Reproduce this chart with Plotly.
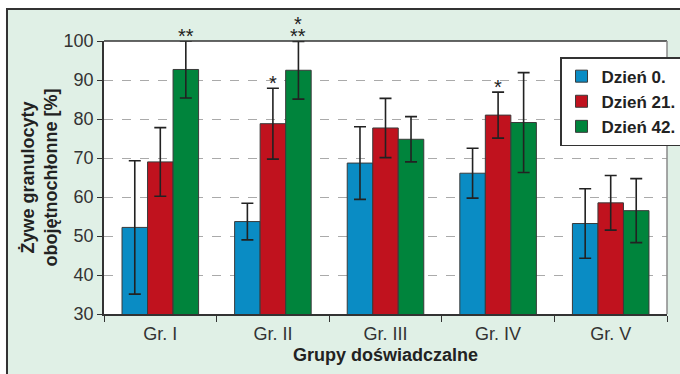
import plotly.graph_objects as go

groups = ["Gr. I", "Gr. II", "Gr. III", "Gr. IV", "Gr. V"]
series_names = ["Dzień 0.", "Dzień 21.", "Dzień 42."]
day0 = [52.2, 53.7, 68.7, 66.1, 53.2]
day0_err = [17.1, 4.7, 9.3, 6.4, 8.9]
day21 = [69.0, 78.8, 77.7, 81.0, 58.5]
day21_err = [8.8, 9.1, 7.6, 5.9, 7.0]
day42 = [92.7, 92.5, 74.8, 79.1, 56.5]
day42_err = [7.3, 7.4, 5.8, 12.8, 8.2]
colors = ["#0a8cc4", "#c0121e", "#00843c"]

# significance marks: (group index, series index, lines of stars, bottom line first)
stars = [(0, 2, ["**"]), (1, 1, ["*"]), (1, 2, ["**", "*"]), (3, 1, ["*"])]

FONT = "Liberation Sans, Arial, sans-serif"

fig = go.Figure()
vals = [day0, day21, day42]
errs = [day0_err, day21_err, day42_err]
for name, v, e, c in zip(series_names, vals, errs, colors):
    fig.add_trace(go.Bar(
        x=groups, y=v, name="<b>" + name + "</b>",
        marker=dict(color=c, line=dict(color="#3a3a3a", width=1)),
        error_y=dict(type="data", array=e, visible=True, color="#222222",
                     thickness=1.6, width=6),
    ))

bar_px = 25.3
for gi, si, lines in stars:
    top = vals[si][gi] + errs[si][gi]
    txt = "<br>".join("<span style='font-size:20px'>%s</span>" % s
                      for s in reversed(lines))
    fig.add_annotation(x=groups[gi], y=top, text=txt, showarrow=False,
                       xshift=(si - 1) * bar_px, yanchor="bottom",
                       yshift=-8,
                       font=dict(size=9, color="#222222", family=FONT))

# outer framed panel
fig.add_shape(type="rect", xref="paper", yref="paper",
              x0=-0.1723, x1=1.05, y0=-0.3, y1=1.117,
              fillcolor="#e0f0e6", line=dict(color="#333333", width=2),
              layer="below")
# white plot area
fig.add_shape(type="rect", xref="paper", yref="paper",
              x0=0, x1=1, y0=0, y1=1, fillcolor="white",
              line=dict(width=0), layer="below")
fig.add_shape(type="line", xref="paper", yref="paper",
              x0=0, x1=1, y0=1, y1=1, line=dict(color="#333333", width=1.5))
fig.add_shape(type="line", xref="paper", yref="paper",
              x0=1, x1=1, y0=0, y1=1, line=dict(color="#8a8a8a", width=1.5))

fig.update_layout(
    width=680, height=374,
    margin=dict(l=104, r=13, t=41, b=60, autoexpand=False),
    paper_bgcolor="white", plot_bgcolor="rgba(0,0,0,0)",
    barmode="group", bargap=0.32, bargroupgap=0,
    font=dict(family=FONT, color="#333333", size=17),
    showlegend=True,
    legend=dict(x=0.81, y=0.941, xanchor="left", yanchor="top",
                bgcolor="white", bordercolor="#333333", borderwidth=1.5,
                font=dict(size=17, color="#222222", family=FONT),
                itemwidth=30, tracegroupgap=0),
    xaxis=dict(showline=True, linecolor="#333333", linewidth=1.5,
               ticks="outside", tickson="boundaries", ticklen=6,
               tickcolor="#333333", tickfont=dict(size=18, color="#333333"),
               ticklabelstandoff=3,
               automargin=False,
               title=dict(text="<b>Grupy doświadczalne</b>", standoff=5,
                          font=dict(size=18, color="#222222"))),
    yaxis=dict(range=[30, 100], dtick=10, showline=True,
               linecolor="#333333", linewidth=1.5, ticks="outside",
               ticklen=5, tickcolor="#333333",
               tickfont=dict(size=18, color="#333333"),
               showgrid=True, gridcolor="#aaaaaa", griddash="dash",
               gridwidth=1, zeroline=False, automargin=False,
               title=dict(text="<b>Żywe granulocyty<br>obojętnochłonne [%]</b>",
                          standoff=1, font=dict(size=18, color="#222222"))),
)

fig.write_html("out.html", config={"displayModeBar": False},
               post_script="document.body.style.margin='0';document.body.style.padding='0';")
